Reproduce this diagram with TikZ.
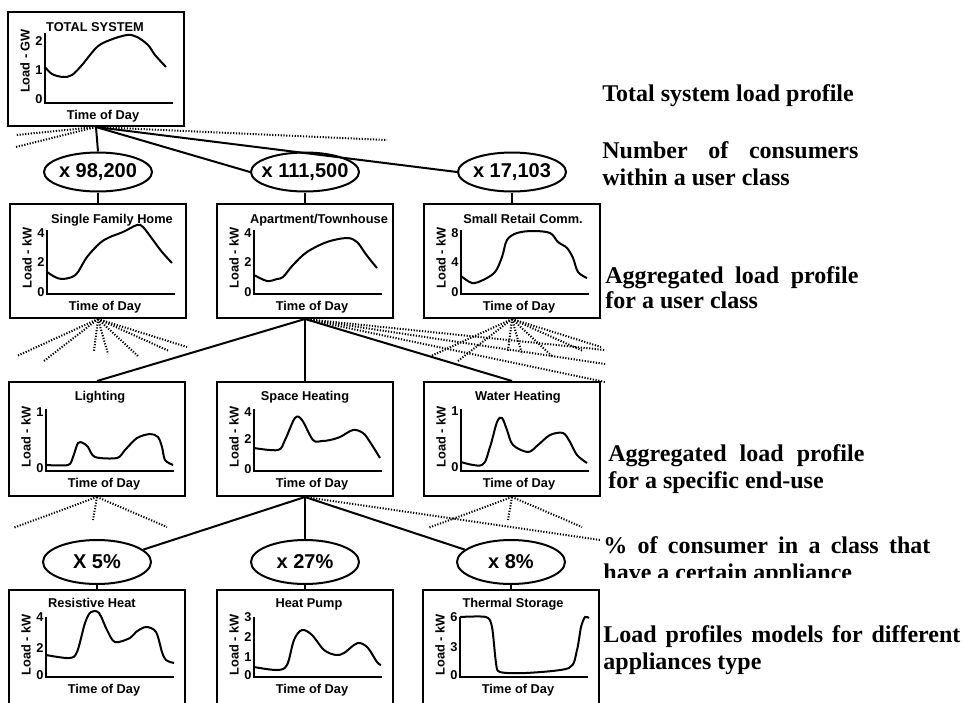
\documentclass[tikz,border=0pt]{standalone}
\usepackage{fontspec}
\setmainfont{Liberation Serif}
\newfontfamily\boxfont{Liberation Sans}
\usetikzlibrary{shapes.geometric,calc}

\tikzset{
  chart/.style={draw, line width=1pt, minimum width=88pt, minimum height=57pt, inner sep=0pt},
  oval/.style={draw, ellipse, line width=1pt, minimum width=54pt, minimum height=19.5pt, inner sep=0pt,
    font=\boxfont\bfseries\fontsize{10}{11}\selectfont},
  conn/.style={line width=1pt},
  dotline/.style={line width=1pt, dash pattern=on 0.6pt off 0.8pt},
  boxtext/.style={font=\boxfont\bfseries\fontsize{6.4}{7}\selectfont, inner sep=0pt},
  titletext/.style={boxtext, anchor=base},
  tick/.style={boxtext, anchor=east},
  axisline/.style={line width=0.9pt},
  curve/.style={line width=1pt},
  side/.style={font=\bfseries\fontsize{12}{13.5}\selectfont, anchor=base west, inner sep=0pt},
}

% #1 name, #2 left x, #3 axis top y, #4 axis bottom y, #5 y label
\newcommand\chartaxes[5]{%
  \draw[axisline] (#2+37,#3) -- (#2+37,#4) -- (#2+165,#4);
  \node[boxtext, anchor=base] (#1x) at (#2+95,#4+16) {Time of Day};
  \node[boxtext,rotate=90] (#1y) at (#2+17,#3+28) {#5};
}

\begin{document}
\begin{tikzpicture}[x=0.5pt,y=-0.5pt]
\useasboundingbox (0,0) rectangle (964,702);
\clip (0,0) rectangle (964,702);

% ---------- boxes ----------
\node[chart] (top) at (96,69) {};
\node[chart] (b1) at (98,261) {};
\node[chart] (b2) at (305,261) {};
\node[chart] (b3) at (512,261) {};
\node[chart] (c1) at (97,439) {};
\node[chart] (c2) at (305,439) {};
\node[chart] (c3) at (512,439) {};
\node[chart] (d1) at (97,647) {};
\node[chart] (d2) at (305,647) {};
\node[chart] (d3) at (511,647) {};

% ---------- ellipses ----------
\node[oval] (e1) at (98,172) {\makebox[0pt]{x 98,200}};
\node[oval] (e2) at (305,172) {\makebox[0pt]{x 111,500}};
\node[oval] (e3) at (512,172) {\makebox[0pt]{x 17,103}};
\node[oval, minimum height=22pt] (f1) at (97,562) {\makebox[0pt]{X 5\%}};
\node[oval, minimum height=22pt] (f2) at (305,562) {\makebox[0pt]{x 27\%}};
\node[oval, minimum height=22pt] (f3) at (511,562) {\makebox[0pt]{x 8\%}};

% ---------- chart contents ----------
% total system
\chartaxes{top}{8}{33}{103}{Load - GW}
\node[titletext] (toptitle) at (95,31) {TOTAL SYSTEM};
\node[tick] (topt2) at (43,41) {2};
\node[tick] (topt1) at (43,70) {1};
\node[tick] (topt0) at (43,99) {0};
\draw[curve] plot[smooth, tension=0.55] coordinates {(45,67) (52,74) (63,77) (72,75) (82,65) (97,47) (110,40) (127,35) (137,37) (148,45) (155,55) (166,67)};

% single family home
\chartaxes{b1}{10}{230}{294}{Load - kW}
\node[titletext] (b1title) at (112,223) {Single Family Home};
\node[tick] (b1t4) at (45,233) {4};
\node[tick] (b1t2) at (45,262) {2};
\node[tick] (b1t0) at (45,292) {0};
\draw[curve] plot[smooth, tension=0.55] coordinates {(47,272) (55,277) (62,279) (72,277) (78,272) (87,257) (100,243) (110,237) (123,232) (137,225) (143,227) (153,240) (162,252) (172,263)};

% apartment
\chartaxes{b2}{217}{230}{294}{Load - kW}
\node[titletext] (b2title) at (319,223) {Apartment/Townhouse};
\node[tick] (b2t4) at (252,233) {4};
\node[tick] (b2t2) at (252,262) {2};
\node[tick] (b2t0) at (252,292) {0};
\draw[curve] plot[smooth, tension=0.55] coordinates {(254,275) (267,281) (277,279) (283,277) (293,265) (307,252) (327,242) (347,238) (357,242) (365,253) (372,262) (377,268)};

% small retail
\chartaxes{b3}{424}{230}{294}{Load - kW}
\node[titletext] (b3title) at (523,223) {Small Retail Comm.};
\node[tick] (b3t8) at (459,233) {8};
\node[tick] (b3t4) at (459,262) {4};
\node[tick] (b3t0) at (459,292) {0};
\draw[curve] plot[smooth, tension=0.55] coordinates {(461,276) (472,283) (483,280) (495,272) (502,257) (507,240) (517,233) (533,231) (550,233) (558,242) (567,248) (573,258) (578,272) (587,278)};

% lighting
\chartaxes{c1}{9}{409}{471}{Load - kW}
\node[titletext] (c1title) at (100,400) {Lighting};
\node[tick] (c1t1) at (44,412) {1};
\node[tick] (c1t0) at (44,468) {0};
\draw[curve] plot[smooth, tension=0.5] coordinates {(46,465) (68,465) (73,457) (78,443) (83,443) (88,447) (95,457) (117,458) (125,450) (137,438) (150,434) (158,437) (162,447) (165,460) (173,465)};

% space heating
\chartaxes{c2}{217}{409}{471}{Load - kW}
\node[titletext] (c2title) at (305,400) {Space Heating};
\node[tick] (c2t4) at (252,412) {4};
\node[tick] (c2t2) at (252,439) {2};
\node[tick] (c2t0) at (252,469) {0};
\draw[curve] plot[smooth, tension=0.55] coordinates {(254,448) (278,450) (285,440) (295,418) (302,420) (313,440) (322,441) (330,440) (340,437) (353,430) (363,433) (370,442) (380,458)};

% water heating
\chartaxes{c3}{424}{409}{471}{Load - kW}
\node[titletext] (c3title) at (518,400) {Water Heating};
\node[tick] (c3t1) at (459,411) {1};
\node[tick] (c3t0) at (459,467) {0};
\draw[curve] plot[smooth, tension=0.55] coordinates {(461,462) (482,465) (490,447) (497,422) (502,418) (507,430) (513,445) (528,452) (538,445) (550,435) (563,433) (570,442) (577,455) (587,463)};

% resistive heat
\chartaxes{d1}{9}{617}{677}{Load - kW}
\node[titletext] (d1title) at (92,607) {Resistive Heat};
\node[tick] (d1t4) at (44,617) {4};
\node[tick] (d1t2) at (44,648) {2};
\node[tick] (d1t0) at (44,675) {0};
\draw[curve] plot[smooth, tension=0.55] coordinates {(46,655) (69,658) (77,652) (85,623) (91,612) (99,613) (107,630) (115,642) (130,638) (136,632) (146,627) (156,632) (162,652) (166,660) (174,663)};

% heat pump
\chartaxes{d2}{217}{617}{677}{Load - kW}
\node[titletext] (d2title) at (309,607) {Heat Pump};
\node[tick] (d2t3) at (252,617) {3};
\node[tick] (d2t2) at (252,637) {2};
\node[tick] (d2t1) at (252,657) {1};
\node[tick] (d2t0) at (252,675) {0};
\draw[curve] plot[smooth, tension=0.55] coordinates {(254,667) (277,670) (287,665) (294,640) (302,630) (312,635) (324,650) (336,655) (344,653) (354,645) (360,643) (368,648) (377,662) (381,665)};

% thermal storage
\chartaxes{d3}{423}{617}{677}{Load - kW}
\node[titletext] (d3title) at (513,607) {Thermal Storage};
\node[tick] (d3t6) at (458,617) {6};
\node[tick] (d3t3) at (458,647) {3};
\node[tick] (d3t0) at (458,675) {0};
\draw[curve] plot[smooth, tension=0.45] coordinates {(460,617) (486,617) (492,627) (496,663) (500,672) (526,673) (569,668) (577,650) (581,627) (585,617) (589,618)};

% ---------- solid connectors ----------
\draw[conn] (top.south) -- (e1.north);
\draw[conn] (top.south) -- (e2.west);
\draw[conn] (top.south) -- (e3.west);
\draw[conn] (e1.south) -- (b1.north);
\draw[conn] (e2.south) -- (b2.north);
\draw[conn] (e3.south) -- (b3.north);
\draw[conn] (b2.south) -- (c1.north);
\draw[conn] (b2.south) -- (c2.north);
\draw[conn] (b2.south) -- (c3.north);
\draw[conn] (c2.south) -- (f1.15);
\draw[conn] (c2.south) -- (f2.north);
\draw[conn] (c2.south) -- (f3.165);
\draw[conn] (f1.south) -- (d1.north);
\draw[conn] (f2.south) -- (d2.north);
\draw[conn] (f3.south) -- (d3.north);

% ---------- dotted connectors ----------
\coordinate (tl1) at (16,135);
\coordinate (tl2) at (16,147);
\coordinate (tr1) at (387,140);
\draw[dotline] (top.south) -- (tl1);
\draw[dotline] (top.south) -- (tl2);
\draw[dotline] (top.south) -- (tr1);

\foreach \bx in {b1,b3}{
  \foreach \dx/\dy [count=\i] in {-81/37,-54/42,-4/32,10/35,41/38,71/32,89/28}{
    \coordinate (\bx r\i) at ($(\bx.south)+(\dx,\dy)$);
    \draw[dotline] (\bx.south) -- (\bx r\i);
  }
}
\coordinate (b2r1) at (605,350);
\coordinate (b2r2) at (605,364);
\coordinate (b2r3) at (605,382);
\draw[dotline] (b2.south) -- (b2r1);
\draw[dotline] (b2.south) -- (b2r2);
\draw[dotline] (b2.south) -- (b2r3);

\foreach \bx in {c1,c3}{
  \foreach \dx/\dy [count=\i] in {-84/31,-4/23,70/30}{
    \coordinate (\bx r\i) at ($(\bx.south)+(\dx,\dy)$);
    \draw[dotline] (\bx.south) -- (\bx r\i);
  }
}
\coordinate (c2r1) at (600,540);
\draw[dotline] (c2.south) -- (c2r1);

% ---------- side labels ----------
\node[side] (s1) at (602,101) {Total system load profile};
\node[side] (s2a) at (602,158) {\makebox[128pt][s]{Number of consumers}};
\node[side] (s2b) at (602,185) {within a user class};
\node[side] (s3a) at (605,283) {\makebox[126.5pt][s]{Aggregated load profile}};
\node[side] (s3b) at (605,308) {for a user class};
\node[side] (s4a) at (608,461) {\makebox[128pt][s]{Aggregated load profile}};
\node[side] (s4b) at (608,488) {for a specific end-use};
\node[side] (s5a) at (603,553) {\makebox[163.5pt][s]{\% of consumer in a class that}};
\begin{scope}
  \clip (590,560) rectangle (964,577);
  \node[side] (s5b) at (603,580) {have a certain appliance};
\end{scope}
\node[side] (s6a) at (603,642) {\makebox[178.5pt][s]{Load profiles models for different}};
\node[side] (s6b) at (603,669) {appliances type};
\end{tikzpicture}
\end{document}
